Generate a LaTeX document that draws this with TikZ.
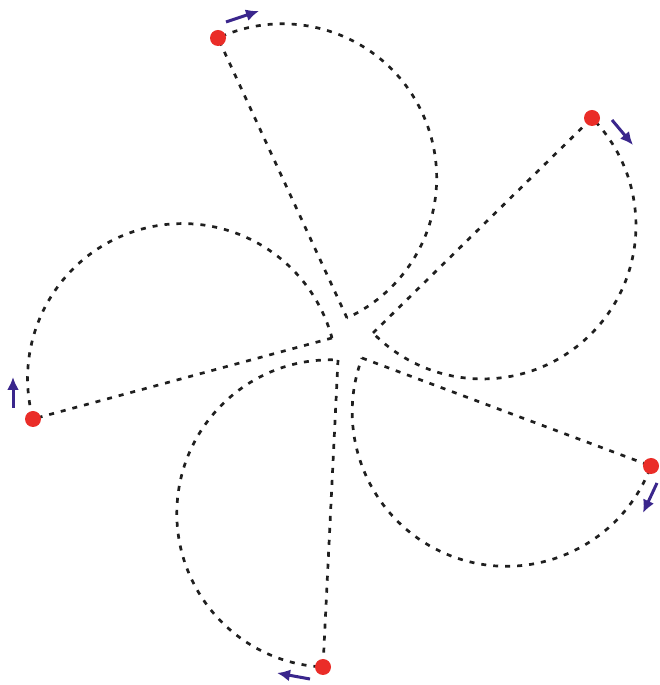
\documentclass[tikz,border=0pt]{standalone}
\usetikzlibrary{calc,arrows.meta}
\definecolor{dotred}{RGB}{234,45,40}
\definecolor{arrblue}{RGB}{58,38,140}
\tikzset{
  petalline/.style={line width=2.7pt, dash pattern=on 5pt off 7pt, black!88},
  reddot/.style={circle, fill=dotred, draw=none, inner sep=0pt, minimum size=16pt},
  motion/.style={arrblue, line width=3pt, -{Latex[length=13pt,width=12pt]}}
}
\begin{document}
\begin{tikzpicture}[x=1pt,y=1pt]
\useasboundingbox (0,0) rectangle (659,685);
% outer points (dots) and inner vertices
\coordinate (p1) at (218,647); \coordinate (v1) at (347,367);
\coordinate (p2) at (592,567); \coordinate (v2) at (373,352);
\coordinate (p3) at (651,219); \coordinate (v3) at (362,327);
\coordinate (p4) at (323,18);  \coordinate (v4) at (338,325);
\coordinate (p5) at (33,266);  \coordinate (v5) at (332,347);
% petals: chord + semicircle
\foreach \i in {1,...,5}{
  \draw[petalline] let \p1=(p\i), \p2=(v\i),
      \n1={atan2(\y1-\y2,\x1-\x2)},
      \n2={veclen(\x1-\x2,\y1-\y2)/2} in
      (v\i) -- (p\i) arc[start angle=\n1, delta angle=-180, radius=\n2];
}
% dots
\node[reddot] (d1) at (p1) {};
\node[reddot] (d2) at (p2) {};
\node[reddot] (d3) at (p3) {};
\node[reddot] (d4) at (p4) {};
\node[reddot] (d5) at (p5) {};
% motion arrows
\coordinate (a1s) at (226,663); \coordinate (a1e) at (259,674);
\coordinate (a2s) at (612,565); \coordinate (a2e) at (633,540);
\coordinate (a3s) at (657,202); \coordinate (a3e) at (643,172);
\coordinate (a4s) at (310,6);   \coordinate (a4e) at (277,12);
\coordinate (a5s) at (13,277);  \coordinate (a5e) at (13,308);
\foreach \i in {1,...,5}{ \draw[motion] (a\i s) -- (a\i e); }
\end{tikzpicture}
\end{document}
